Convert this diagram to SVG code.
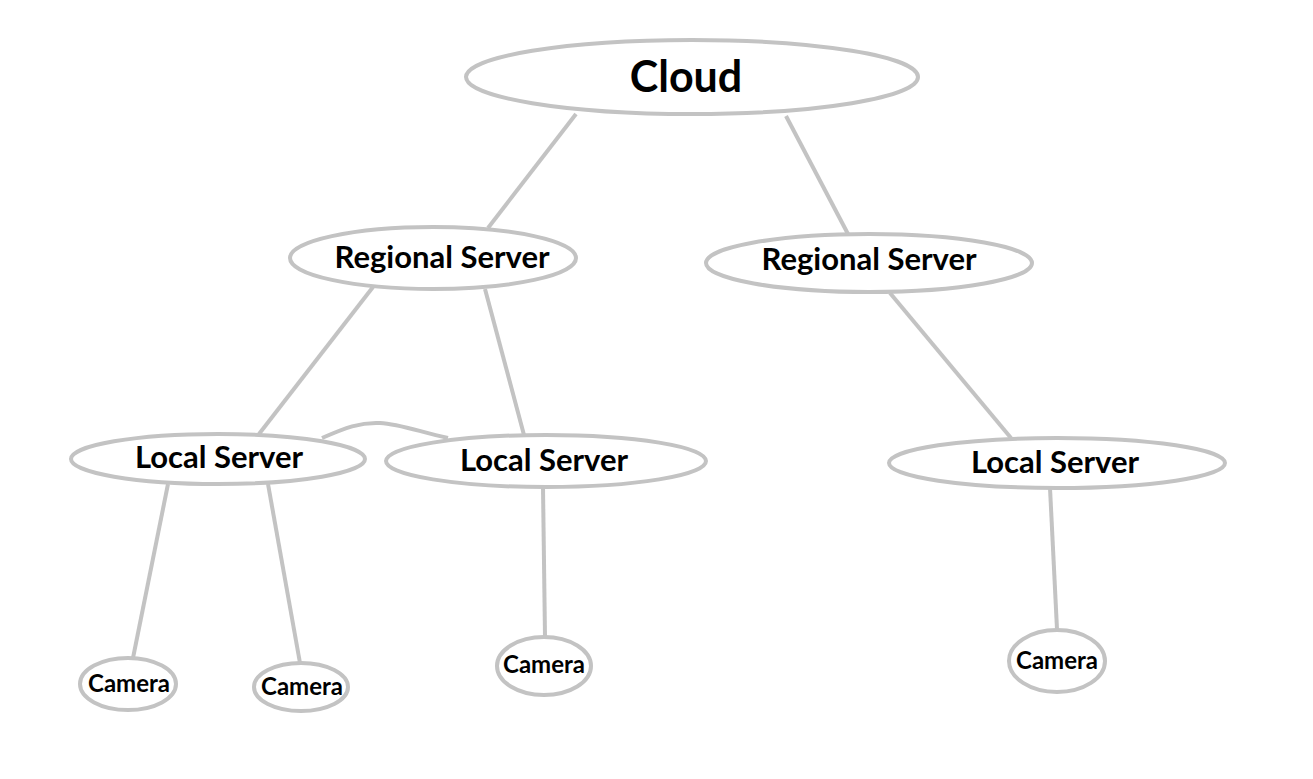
<svg xmlns="http://www.w3.org/2000/svg" width="1313" height="779" viewBox="0 0 1313 779">
<style>
.n{fill:#fff;stroke:#c3c3c3;stroke-width:4}
.e{fill:none;stroke:#c3c3c3;stroke-width:4}
text{font-family:Lato,"Open Sans","Liberation Sans",sans-serif;font-weight:bold;fill:#000;text-anchor:middle}
.t1{font-size:43px}
.t2{font-size:31px}
.t3{font-size:24px}
</style>
<rect width="1313" height="779" fill="#fff"/>
<g id="connectors">
<line class="e" x1="576" y1="114" x2="488" y2="228"/>
<line class="e" x1="786" y1="116" x2="848" y2="234"/>
<line class="e" x1="373" y1="287" x2="259" y2="434"/>
<line class="e" x1="485" y1="289" x2="524" y2="435"/>
<line class="e" x1="890" y1="293" x2="1011" y2="438"/>
<line class="e" x1="168" y1="484" x2="133" y2="658"/>
<line class="e" x1="268" y1="484" x2="300" y2="663"/>
<line class="e" x1="543" y1="487" x2="545" y2="637"/>
<line class="e" x1="1050" y1="488" x2="1057" y2="629"/>
<path class="e" d="M322,438 C345,428 360,422 380,423 C400,424 420,432 448,438"/>
</g>
<g id="cloud"><ellipse class="n" cx="692" cy="77" rx="226" ry="37"/><text class="t1" x="686" y="92">Cloud</text></g>
<g id="regional1"><ellipse class="n" cx="433" cy="258" rx="143" ry="31"/><text class="t2" x="442" y="268">Regional Server</text></g>
<g id="regional2"><ellipse class="n" cx="869" cy="263" rx="163" ry="29"/><text class="t2" x="869" y="270">Regional Server</text></g>
<g id="local1"><ellipse class="n" cx="218" cy="459" rx="147" ry="25"/><text class="t2" x="219" y="468">Local Server</text></g>
<g id="local2"><ellipse class="n" cx="546" cy="461" rx="160" ry="26"/><text class="t2" x="544" y="471">Local Server</text></g>
<g id="local3"><ellipse class="n" cx="1057" cy="463" rx="168" ry="25"/><text class="t2" x="1055" y="473">Local Server</text></g>
<g id="camera1"><ellipse class="n" cx="128" cy="684" rx="48" ry="26"/><text class="t3" x="129" y="692">Camera</text></g>
<g id="camera2"><ellipse class="n" cx="301" cy="687" rx="47" ry="24"/><text class="t3" x="302" y="695">Camera</text></g>
<g id="camera3"><ellipse class="n" cx="544" cy="666" rx="47" ry="29"/><text class="t3" x="544" y="673">Camera</text></g>
<g id="camera4"><ellipse class="n" cx="1057" cy="661" rx="48" ry="31"/><text class="t3" x="1057" y="669">Camera</text></g>
</svg>
